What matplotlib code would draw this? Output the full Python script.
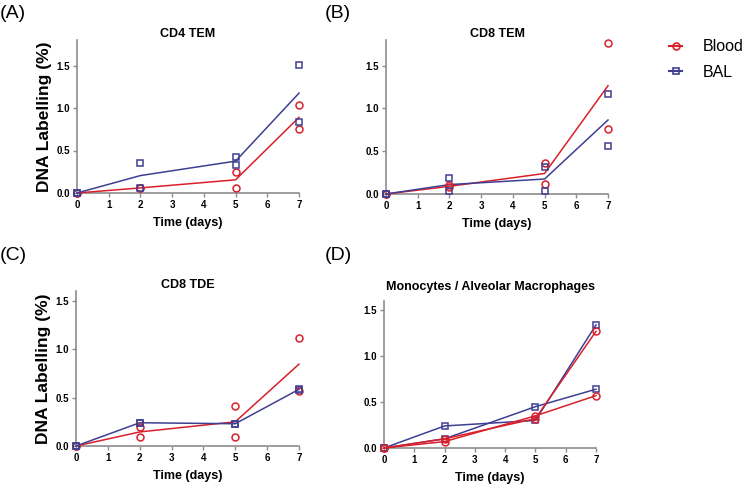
"""
DNA labelling over time in blood vs BAL, four cell subsets (panels A-D).
"""

import numpy as np
import matplotlib.pyplot as plt

plt.rcParams["font.family"] = ["Liberation Sans", "DejaVu Sans"]

RED = "#D9202A"
BLUE = "#3E3F93"
SPINE = "#8C8C8C"

W, H = 756, 484

days = [0, 2, 5, 7]

# two replicates per group
cd4_blood = [[0, 0.06, 0.25, 1.03], [0, 0.06, 0.06, 0.75]]
cd4_bal = [[0, 0.35, 0.42, 1.51], [0, 0.06, 0.33, 0.84]]

cd8tem_blood = [[0, 0.10, 0.36, 1.77], [0, 0.08, 0.12, 0.76]]
cd8tem_bal = [[0, 0.19, 0.32, 1.17], [0, 0.03, 0.03, 0.56]]

cd8tde_blood = [[0, 0.20, 0.41, 1.12], [0, 0.09, 0.09, 0.57]]
cd8tde_bal = [[0, 0.24, 0.23, 0.59], [0, 0.24, 0.23, 0.58]]

mono_blood = [[0, 0.10, 0.32, 1.27], [0, 0.07, 0.35, 0.57]]
mono_bal = [[0, 0.24, 0.30, 1.34], [0, 0.10, 0.45, 0.64]]

y_ticks = [0.0, 0.5, 1.0, 1.5]
x_ticks = [0, 1, 2, 3, 4, 5, 6, 7]


def px_axes(fig, left, right, top, bottom):
    """Axes placed by pixel box (top-left origin)."""
    return fig.add_axes([left / W, 1 - bottom / H, (right - left) / W, (bottom - top) / H])


def style(ax, ymax, title, title_pad, ylabel=False):
    ax.set_xlim(0, 7)
    ax.set_ylim(0, ymax)
    for s in ("top", "right"):
        ax.spines[s].set_visible(False)
    for s in ("left", "bottom"):
        ax.spines[s].set_color(SPINE)
        ax.spines[s].set_linewidth(1.2)
    ax.set_xticks(x_ticks)
    ax.set_yticks(y_ticks)
    ax.set_yticklabels([f"{v:.1f}" for v in y_ticks])
    ax.tick_params(length=3, width=1, color=SPINE, labelsize=7, pad=2)
    for lab in ax.get_xticklabels() + ax.get_yticklabels():
        lab.set_fontweight("bold")
    ax.set_title(title, fontsize=9, fontweight="bold", pad=title_pad)
    ax.set_xlabel("Time (days)", fontsize=9, fontweight="bold", labelpad=5)
    if ylabel:
        ax.set_ylabel("DNA Labelling (%)", fontsize=12.5, fontweight="bold", labelpad=3)


def mean_panel(ax, blood, bal):
    for reps, color, marker in ((blood, RED, "o"), (bal, BLUE, "s")):
        ax.plot(days, np.mean(reps, axis=0), color=color, lw=1.1, clip_on=False, zorder=3)
        for r in reps:
            ax.plot(days, r, ls="none", marker=marker, ms=5, mfc="none", mec=color,
                    mew=1.1, clip_on=False, zorder=4)


def rep_panel(ax, blood, bal):
    for reps, color, marker in ((bal, BLUE, "s"), (blood, RED, "o")):
        for r in reps:
            ax.plot(days, r, color=color, lw=1.1, marker=marker, ms=5, mfc="none",
                    mec=color, mew=1.1, clip_on=False, zorder=3)


fig = plt.figure(figsize=(W / 100, H / 100), dpi=100)

ax_a = px_axes(fig, 77, 299, 40, 193)
mean_panel(ax_a, cd4_blood, cd4_bal)
style(ax_a, 1.8, "CD4 TEM", 1, ylabel=True)

ax_b = px_axes(fig, 386, 608, 40, 194)
mean_panel(ax_b, cd8tem_blood, cd8tem_bal)
style(ax_b, 1.8, "CD8 TEM", 1)

ax_c = px_axes(fig, 76, 299, 291, 446)
mean_panel(ax_c, cd8tde_blood, cd8tde_bal)
style(ax_c, 1.6, "CD8 TDE", 1, ylabel=True)

ax_d = px_axes(fig, 384, 596, 301, 448)
rep_panel(ax_d, mono_blood, mono_bal)
style(ax_d, 1.6, "Monocytes / Alveolar Macrophages", 8)

# panel letters
for lab, x, y in (("(A)", 0, 14), ("(B)", 325, 13), ("(C)", 0, 255), ("(D)", 325, 255)):
    fig.text(x / W, 1 - y / H, lab, fontsize=14, va="center", ha="left")

# legend
h_blood, = ax_b.plot([], [], color=RED, lw=1.5, marker="o", ms=5, mfc="none", mec=RED, mew=1.2)
h_bal, = ax_b.plot([], [], color=BLUE, lw=1.5, marker="s", ms=5, mfc="none", mec=BLUE, mew=1.2)
fig.legend([h_blood, h_bal], ["Blood", "BAL"], loc="upper left",
           bbox_to_anchor=(655 / W, 1 - 25 / H), frameon=False, fontsize=11.5,
           handlelength=0.8, handletextpad=1.3, labelspacing=0.65)

fig.savefig("out.png", dpi=100)
